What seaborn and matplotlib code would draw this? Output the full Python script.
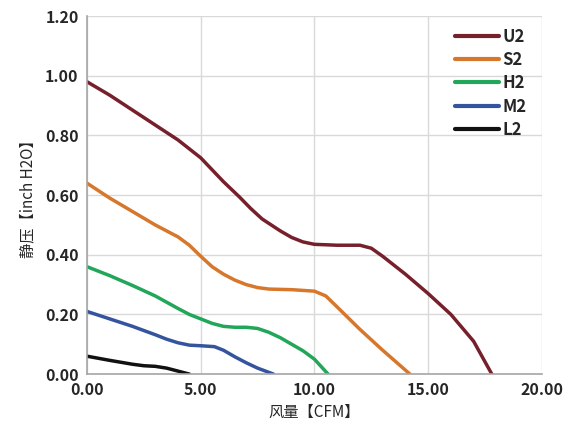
import matplotlib.pyplot as plt
import pandas as pd
import seaborn as sns

# fan curves: airflow (CFM) vs static pressure (inch H2O)
u2_x = [0, 1, 2, 3, 4, 5, 5.5, 6, 6.7, 7.2, 7.7, 8.5, 9, 9.5, 10, 11, 12, 12.5, 13, 14, 15, 16, 17, 17.8]
u2_y = [0.98, 0.935, 0.885, 0.835, 0.785, 0.725, 0.685, 0.645, 0.594, 0.555, 0.52, 0.48, 0.458, 0.443, 0.435, 0.432, 0.432, 0.422, 0.395, 0.335, 0.27, 0.20, 0.11, 0.0]

s2_x = [0, 1, 2, 3, 4, 4.5, 5, 5.5, 6, 6.5, 7, 7.5, 8, 9, 10, 10.5, 11, 12, 13, 14.2]
s2_y = [0.64, 0.59, 0.545, 0.50, 0.46, 0.432, 0.395, 0.36, 0.335, 0.315, 0.30, 0.29, 0.285, 0.283, 0.278, 0.262, 0.225, 0.15, 0.08, 0.0]

h2_x = [0, 1, 2, 3, 4, 4.5, 5, 5.5, 6, 6.5, 7, 7.5, 8, 8.5, 9, 9.5, 10, 10.6]
h2_y = [0.36, 0.33, 0.297, 0.262, 0.22, 0.2, 0.185, 0.17, 0.16, 0.157, 0.157, 0.153, 0.14, 0.122, 0.10, 0.078, 0.05, 0.0]

m2_x = [0, 1, 2, 3, 3.5, 4, 4.5, 5, 5.6, 6, 6.5, 7, 7.5, 8.2]
m2_y = [0.21, 0.185, 0.16, 0.132, 0.117, 0.105, 0.097, 0.095, 0.092, 0.08, 0.058, 0.038, 0.02, 0.0]

l2_x = [0, 1, 2, 2.5, 3, 3.5, 4, 4.5]
l2_y = [0.06, 0.046, 0.033, 0.028, 0.026, 0.02, 0.01, 0.0]

series = {"U2": (u2_x, u2_y), "S2": (s2_x, s2_y), "H2": (h2_x, h2_y),
          "M2": (m2_x, m2_y), "L2": (l2_x, l2_y)}
colors = {"U2": "#76202c", "S2": "#d7772c", "H2": "#22a65a", "M2": "#34559e", "L2": "#111111"}

rows = []
for name, (xs, ys) in series.items():
    for x, y in zip(xs, ys):
        rows.append({"model": name, "cfm": x, "pressure": y})
df = pd.DataFrame(rows)

sns.set_style("whitegrid")
plt.rcParams["font.family"] = ["Noto Sans CJK SC", "DejaVu Sans"]

fig = plt.figure(figsize=(5.65, 4.36), dpi=100)
ax = fig.add_axes([0.154, 0.142, 0.805, 0.821])

sns.lineplot(data=df, x="cfm", y="pressure", hue="model", palette=colors,
             sort=False, linewidth=2.5, solid_joinstyle="round", ax=ax)

ax.set_xlim(0, 20)
ax.set_ylim(0, 1.2)
ax.set_xticks([0, 5, 10, 15, 20])
ax.set_yticks([0, 0.2, 0.4, 0.6, 0.8, 1.0, 1.2])
ax.set_xticklabels([f"{v:.2f}" for v in [0, 5, 10, 15, 20]], fontweight="bold", fontsize=11.5)
ax.set_yticklabels([f"{v:.2f}" for v in [0, 0.2, 0.4, 0.6, 0.8, 1.0, 1.2]], fontweight="bold", fontsize=11.5)
ax.tick_params(axis="both", length=0, pad=6)
ax.grid(color="#d9d9d9", linewidth=1)
for s in ["top", "right"]:
    ax.spines[s].set_visible(False)
for s in ["left", "bottom"]:
    ax.spines[s].set_color("#a6a6a6")
    ax.spines[s].set_linewidth(1.2)

ax.set_xlabel("风量【CFM】", fontsize=11, labelpad=4)
ax.set_ylabel("静压【inch H2O】", fontsize=11, labelpad=6)

leg = ax.legend(loc="upper right", frameon=False, handlelength=2.6, handletextpad=0.25,
                labelspacing=0.32, fontsize=12, bbox_to_anchor=(1.0, 1.01))
for t in leg.get_texts():
    t.set_fontweight("bold")
for line in leg.get_lines():
    line.set_linewidth(3)

fig.savefig("out.png", dpi=100)
